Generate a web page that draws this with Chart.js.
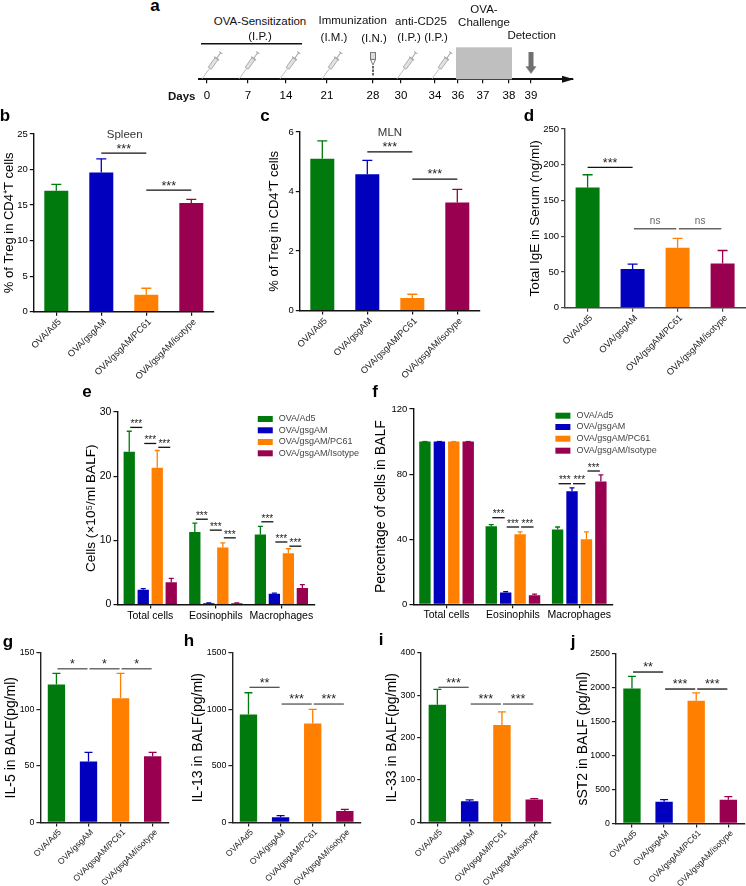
<!DOCTYPE html>
<html>
<head>
<meta charset="utf-8">
<title>Treg panels</title>
<script src="https://cdn.jsdelivr.net/npm/chart.js@4/dist/chart.umd.js"></script>
<style>
    html, body { margin: 0; padding: 0; background: #fff; }
    #page { position: relative; width: 746px; height: 886px; overflow: hidden; font-family: "Liberation Sans", Arial, sans-serif; }
    #page canvas { position: absolute; }
    .note { position: absolute; transform: translate(-50%, -50%); white-space: nowrap; color: #111; }
</style>
</head>
<body>
<div id="page"></div>
<script>
// categories
var groups = ["OVA/Ad5", "OVA/gsgAM", "OVA/gsgAM/PC61", "OVA/gsgAM/isotype"];
var legendNames = ["OVA/Ad5", "OVA/gsgAM", "OVA/gsgAM/PC61", "OVA/gsgAM/Isotype"];
var cellTypes = ["Total cells", "Eosinophils", "Macrophages"];
var colors = ["#007A0C", "#0000BE", "#FF8000", "#9A0050"];

// timeline (panel a), positions are along the drawn arrow
var days = ["0", "7", "14", "21", "28", "30", "34", "36", "37", "38", "39"];
var dayPositions = [8, 49, 87, 128, 174, 202, 236, 259, 284, 310, 332];
var syringePositions = [13, 50, 91, 133, 208, 243];
var nasalPositions = [174];
var detectionPositions = [332];
var challengeSpan = [257, 313];
var sensitizationSpan = [2, 103];

// b - spleen
var spleenMeans = [17, 19.6, 2.4, 15.3];
var spleenTops = [17.9, 21.5, 3.3, 15.8];
var spleenTicks = [0, 5, 10, 15, 20, 25];
// c - MLN
var mlnMeans = [5.1, 4.58, 0.42, 3.63];
var mlnTops = [5.7, 5.05, 0.55, 4.07];
var mlnTicks = [0, 2, 4, 6];
// d - serum IgE
var igeMeans = [168, 54, 84, 62];
var igeTops = [186, 61, 97, 80];
var igeTicks = [0, 50, 100, 150, 200, 250];
// e - BALF cell counts, one row per group
var countMeans = [[23.8, 11.3, 10.9], [2.3, 0.2, 1.7], [21.3, 8.9, 8.0], [3.5, 0.2, 2.6]];
var countTops = [[27, 12.7, 12.2], [2.5, 0.25, 1.8], [24, 9.6, 8.7], [4.1, 0.25, 3.1]];
var countTicks = [0, 10, 20, 30];
// f - BALF cell percentages
var percentMeans = [[100, 48, 46], [100, 7.3, 69.5], [100, 43, 40], [100, 5.5, 75.5]];
var percentTops = [[100, 49, 47.5], [100, 7.8, 71.5], [100, 44.5, 44.5], [100, 6.3, 79.5]];
var percentTicks = [0, 40, 80, 120];
// g - IL-5
var il5Means = [122, 54, 110, 58.5];
var il5Tops = [132, 62, 132, 62];
var il5Ticks = [0, 50, 100, 150];
// h - IL-13
var il13Means = [955, 45, 875, 100];
var il13Tops = [1148, 60, 1000, 115];
var il13Ticks = [0, 500, 1000, 1500];
// i - IL-33
var il33Means = [278, 50, 230, 54];
var il33Tops = [314, 53, 261, 56];
var il33Ticks = [0, 100, 200, 300, 400];
// j - sST2
var sst2Means = [1990, 320, 1810, 350];
var sst2Tops = [2170, 350, 1925, 395];
var sst2Ticks = [0, 500, 1000, 1500, 2000, 2500];

// significance bars: from bar, to bar, value height, label
var spleenSig = [[1, 2, 22.3, "***"], [2, 3, 17.1, "***"]];
var mlnSig = [[1, 2, 5.33, "***"], [2, 3, 4.42, "***"]];
var igeSig = [[0, 1, 196.4, "***"], [1, 2, 110.5, "ns"], [2, 3, 110.5, "ns"]];
var countSig = [[0, 1, 27.6, "***"], [1, 2, 25.1, "***"], [2, 3, 24.5, "***"],
    [4, 5, 13.3, "***"], [5, 6, 11.6, "***"], [6, 7, 10.4, "***"],
    [8, 9, 12.9, "***"], [9, 10, 9.75, "***"], [10, 11, 9.1, "***"]];
var percentSig = [[4, 5, 53.2, "***"], [5, 6, 47.5, "***"], [6, 7, 47.5, "***"],
    [8, 9, 74.1, "***"], [9, 10, 74.1, "***"], [10, 11, 81.9, "***"]];
var il5Sig = [[0, 1, 136, "*"], [1, 2, 136, "*"], [2, 3, 136, "*"]];
var il13Sig = [[0, 1, 1196, "**"], [1, 2, 1048, "***"], [2, 3, 1048, "***"]];
var il33Sig = [[0, 1, 319, "***"], [1, 2, 279.5, "***"], [2, 3, 279.5, "***"]];
var sst2Sig = [[0, 1, 2234, "**"], [1, 2, 1983, "***"], [2, 3, 1983, "***"]];

var fontName = '"Liberation Sans", Arial, sans-serif';
var page = document.getElementById("page");
Chart.defaults.font.family = fontName;
Chart.defaults.color = "#111";
Chart.defaults.animation = false;

function addCanvas(x, y, w, h) {
    var c = document.createElement("canvas");
    c.width = w;
    c.height = h;
    c.style.left = x + "px";
    c.style.top = y + "px";
    page.appendChild(c);
    return c;
}

function addNote(text, x, y, size, weight, color) {
    var d = document.createElement("div");
    d.className = "note";
    d.textContent = text;
    d.style.left = x + "px";
    d.style.top = y + "px";
    d.style.fontSize = size + "px";
    if (weight) d.style.fontWeight = weight;
    if (color) d.style.color = color;
    page.appendChild(d);
}

// error bars + significance bars + optional legend, all through the chart's scales
function marksPlugin(p) {
    function barX(chart, slot) {
        var n = chart.data.datasets.length;
        if (n == 1) return chart.getDatasetMeta(0).data[slot].x;
        return chart.getDatasetMeta(slot % n).data[Math.floor(slot / n)].x;
    }
    return {
        id: "marks",
        afterDatasetsDraw: function (chart) {
            var ctx = chart.ctx, y = chart.scales.y;
            ctx.save();
            chart.data.datasets.forEach(function (ds, d) {
                chart.getDatasetMeta(d).data.forEach(function (bar, i) {
                    var top = y.getPixelForValue(ds.errorTops[i]);
                    ctx.strokeStyle = Array.isArray(ds.backgroundColor) ? ds.backgroundColor[i] : ds.backgroundColor;
                    ctx.lineWidth = 1.3;
                    ctx.beginPath();
                    ctx.moveTo(bar.x, bar.y);
                    ctx.lineTo(bar.x, top);
                    ctx.moveTo(bar.x - p.cap, top);
                    ctx.lineTo(bar.x + p.cap, top);
                    ctx.stroke();
                });
            });
            ctx.textAlign = "center";
            p.sig.forEach(function (s) {
                var ns = s[3] == "ns";
                var trim = ns ? 1.3 : p.inset;
                var x1 = barX(chart, s[0]) + trim, x2 = barX(chart, s[1]) - trim;
                var py = y.getPixelForValue(s[2]);
                ctx.strokeStyle = ns ? "#666" : p.sigColor;
                ctx.lineWidth = ns ? 1.6 : 1.3;
                ctx.beginPath();
                ctx.moveTo(x1, py);
                ctx.lineTo(x2, py);
                ctx.stroke();
                ctx.fillStyle = ns ? "#666" : "#222";
                ctx.font = (ns ? "10px " : p.sigFont + "px ") + fontName;
                ctx.textBaseline = "middle";
                ctx.fillText(s[3], (x1 + x2) / 2, py - (ns ? 7 : p.sigLift));
            });
            if (p.legend) {
                ctx.textAlign = "left";
                ctx.font = "9px " + fontName;
                chart.data.datasets.forEach(function (ds, d) {
                    var ly = p.legend.y[d] - p.y0;
                    ctx.fillStyle = ds.backgroundColor;
                    ctx.fillRect(p.legend.x - p.x0, ly - 3, 15, 6);
                    ctx.fillStyle = "#444";
                    ctx.fillText(ds.label, p.legend.x + 21 - p.x0, ly);
                });
            }
            ctx.restore();
        }
    };
}

function barPanel(p) {
    var titleOffset = (p.titleFont || 14) * 0.6;
    var flat = p.labels == cellTypes;
    p.x0 = p.titleX - titleOffset;
    p.y0 = p.top - 10;
    var x1 = Math.min(p.canvasRight || (p.right + 3), 746);
    var h = Math.min(p.bottom + (flat ? 26 : 74), 886) - p.y0;
    var canvas = addCanvas(p.x0, p.y0, Math.ceil(x1 - p.x0), Math.ceil(h));
    p.inset = p.inset || 0;
    p.sigColor = p.sigColor || "#111";
    p.sigFont = p.sigFont || 12.5;
    p.sigLift = p.sigLift || 4;
    new Chart(canvas, {
        type: "bar",
        data: { labels: p.labels, datasets: p.datasets },
        plugins: [marksPlugin(p)],
        options: {
            responsive: false,
            layout: { padding: { left: 0, top: p.top - p.y0, right: Math.ceil(x1 - p.x0) - (p.right - p.x0), bottom: 0 } },
            plugins: { legend: { display: false }, tooltip: { enabled: false } },
            datasets: { bar: { categoryPercentage: p.catPct, barPercentage: p.barPct } },
            scales: {
                x: {
                    grid: { offset: false, drawOnChartArea: false, tickLength: 4, color: p.axisColor, lineWidth: 1.2 },
                    border: { color: p.axisColor, width: 1.4 },
                    ticks: {
                        autoSkip: false,
                        padding: 1,
                        labelOffset: flat ? 0 : 3.5,
                        maxRotation: flat ? 0 : 45,
                        minRotation: flat ? 0 : 45,
                        font: { size: p.xFont },
                        color: flat ? "#000" : "#222"
                    },
                    afterFit: function (s) {
                        s.height = Math.ceil(h) - (p.bottom - p.y0);
                        s.paddingLeft = 0;
                        s.paddingRight = 0;
                    }
                },
                y: {
                    min: p.ticks[0],
                    max: p.ticks[p.ticks.length - 1],
                    afterBuildTicks: function (s) {
                        s.ticks = p.ticks.map(function (v) { return { value: v }; });
                    },
                    grid: { drawOnChartArea: false, tickLength: 4, color: p.axisColor, lineWidth: 1.2 },
                    border: { color: p.axisColor, width: 1.4 },
                    ticks: {
                        padding: 2,
                        font: { size: p.yFont },
                        color: "#000",
                        callback: function (v) { return String(v); }
                    },
                    title: { display: true, text: p.title, padding: 0, color: "#000", font: { size: p.titleFont || 14, lineHeight: 1.2 } },
                    afterFit: function (s) {
                        s.width = p.left - p.x0;
                        s.paddingTop = 0;
                        s.paddingBottom = 0;
                    }
                }
            }
        }
    });
}

function singleSeries(means, tops) {
    return [{ data: means, errorTops: tops, backgroundColor: colors }];
}

function groupedSeries(means, tops) {
    return legendNames.map(function (name, i) {
        return { label: name, data: means[i], errorTops: tops[i], backgroundColor: colors[i] };
    });
}

// small icons for the timeline, used as point styles
function iconCanvas(w, h, draw) {
    var c = document.createElement("canvas");
    c.width = w;
    c.height = h;
    draw(c.getContext("2d"));
    return c;
}

var syringeIcon = iconCanvas(24, 30, function (g) {
    g.translate(12, 15);
    g.rotate(-0.95);
    g.strokeStyle = "#bdbdbd";
    g.lineWidth = 0.9;
    g.beginPath();
    g.moveTo(-17, 0);
    g.lineTo(-3, 0);
    g.stroke();
    g.fillStyle = "#e2e2e2";
    g.strokeStyle = "#a8a8a8";
    g.fillRect(-4, -1.8, 12, 3.6);
    g.strokeRect(-4, -1.8, 12, 3.6);
    g.strokeStyle = "#a0a0a0";
    g.lineWidth = 1;
    g.beginPath();
    g.moveTo(8, 0);
    g.lineTo(15, 0);
    g.moveTo(15, -2);
    g.lineTo(15, 2);
    g.moveTo(8, -3);
    g.lineTo(8, 3);
    g.stroke();
});

var nasalIcon = iconCanvas(10, 26, function (g) {
    g.fillStyle = "#ddd";
    g.strokeStyle = "#777";
    g.lineWidth = 1;
    g.fillRect(2.5, 0.5, 5, 7);
    g.strokeRect(2.5, 0.5, 5, 7);
    g.beginPath();
    g.moveTo(2.5, 7.5);
    g.lineTo(5, 13);
    g.lineTo(7.5, 7.5);
    g.stroke();
    g.fillStyle = "#666";
    g.fillRect(4, 14, 2, 2.5);
    g.fillRect(4, 17.5, 2, 2.5);
    g.fillRect(4, 21, 2, 2.5);
});

var arrowIcon = iconCanvas(12, 22, function (g) {
    g.fillStyle = "#707070";
    g.fillRect(3.5, 0, 5, 15);
    g.beginPath();
    g.moveTo(0.5, 14);
    g.lineTo(11.5, 14);
    g.lineTo(6, 21.5);
    g.closePath();
    g.fill();
});

function xyAt(positions, level) {
    return positions.map(function (v) { return { x: v, y: level }; });
}

var timelinePlugin = {
    id: "timeline",
    beforeDatasetsDraw: function (chart) {
        var ctx = chart.ctx, x = chart.scales.x, y = chart.scales.y;
        ctx.save();
        ctx.fillStyle = "#bfbfbf";
        ctx.fillRect(x.getPixelForValue(challengeSpan[0]), y.getPixelForValue(1),
            x.getPixelForValue(challengeSpan[1]) - x.getPixelForValue(challengeSpan[0]), y.getPixelForValue(0) - y.getPixelForValue(1));
        ctx.strokeStyle = "#111";
        ctx.lineWidth = 1.6;
        ctx.beginPath();
        ctx.moveTo(x.getPixelForValue(sensitizationSpan[0]), y.getPixelForValue(1.11));
        ctx.lineTo(x.getPixelForValue(sensitizationSpan[1]), y.getPixelForValue(1.11));
        ctx.stroke();
        ctx.restore();
    },
    afterDraw: function (chart) {
        var ctx = chart.ctx, a = chart.chartArea;
        ctx.save();
        ctx.fillStyle = "#111";
        ctx.beginPath();
        ctx.moveTo(a.right + 1, a.bottom);
        ctx.lineTo(a.right - 11, a.bottom - 3.5);
        ctx.lineTo(a.right - 11, a.bottom + 3.5);
        ctx.closePath();
        ctx.fill();
        ctx.restore();
    }
};

var timelineCanvas = addCanvas(150, 30, 440, 76);
new Chart(timelineCanvas, {
    type: "scatter",
    data: {
        datasets: [
            { data: xyAt(syringePositions, 0.45), pointStyle: syringeIcon, clip: false },
            { data: xyAt(nasalPositions, 0.45), pointStyle: nasalIcon, clip: false },
            { data: xyAt(detectionPositions, 0.5), pointStyle: arrowIcon, clip: false }
        ]
    },
    plugins: [timelinePlugin],
    options: {
        responsive: false,
        layout: { padding: { left: 49, top: 17.3, right: 17, bottom: 0 } },
        plugins: { legend: { display: false }, tooltip: { enabled: false } },
        scales: {
            x: {
                type: "linear",
                min: 0,
                max: 374,
                afterBuildTicks: function (s) {
                    s.ticks = dayPositions.map(function (v) { return { value: v }; });
                },
                grid: { drawOnChartArea: false, tickLength: 4, color: "#111", lineWidth: 1.2 },
                border: { color: "#111", width: 2 },
                ticks: {
                    autoSkip: false,
                    maxRotation: 0,
                    padding: 6,
                    font: { size: 11.5 },
                    color: "#000",
                    callback: function (v, i) { return days[i]; }
                },
                afterFit: function (s) {
                    s.height = 76 - 49.3;
                    s.paddingLeft = 0;
                    s.paddingRight = 0;
                }
            },
            y: { display: false, min: 0, max: 1 }
        }
    }
});

barPanel({ labels: groups, datasets: singleSeries(spleenMeans, spleenTops), ticks: spleenTicks, sig: spleenSig,
    title: "% of Treg in CD4\u207AT cells", titleX: 10, titleFont: 13, left: 34, right: 214, top: 134, bottom: 311.7,
    catPct: 1, barPct: 0.533, cap: 5, xFont: 9.2, yFont: 9.5, axisColor: "#111" });
barPanel({ labels: groups, datasets: singleSeries(mlnMeans, mlnTops), ticks: mlnTicks, sig: mlnSig,
    title: "% of Treg in CD4\u207AT cells", titleX: 275, titleFont: 13, left: 300, right: 480, top: 131.7, bottom: 310.3,
    catPct: 1, barPct: 0.533, cap: 5, xFont: 9.2, yFont: 9.5, axisColor: "#111" });
barPanel({ labels: groups, datasets: singleSeries(igeMeans, igeTops), ticks: igeTicks, sig: igeSig,
    title: "Total IgE in Serum (ng/ml)", titleX: 535, titleFont: 13.5, left: 565, right: 745, top: 129, bottom: 307.7,
    catPct: 1, barPct: 0.533, cap: 5, xFont: 9.2, yFont: 9.5, axisColor: "#444" });
barPanel({ labels: cellTypes, datasets: groupedSeries(countMeans, countTops), ticks: countTicks, sig: countSig,
    title: "Cells (\u00D710\u2075/ml BALF)", titleX: 90.7, titleFont: 13.6, left: 117, right: 313.7, top: 411.7, bottom: 604.3,
    catPct: 0.854, barPct: 0.807, cap: 2.5, xFont: 10.5, yFont: 10.5, axisColor: "#111", inset: 1, sigFont: 10, sigLift: 3,
    legend: { x: 257.3, y: [418.7, 430, 441.7, 453] }, canvasRight: 362 });
barPanel({ labels: cellTypes, datasets: groupedSeries(percentMeans, percentTops), ticks: percentTicks, sig: percentSig,
    title: "Percentage of cells in BALF", titleX: 381, left: 413, right: 612, top: 409, bottom: 604.3,
    catPct: 0.87, barPct: 0.79, cap: 2.5, xFont: 10.5, yFont: 9.5, axisColor: "#111", inset: 1, sigFont: 10, sigLift: 3,
    legend: { x: 555, y: [415.7, 427, 438.7, 450.7] }, canvasRight: 662 });
barPanel({ labels: groups, datasets: singleSeries(il5Means, il5Tops), ticks: il5Ticks, sig: il5Sig,
    title: "IL-5 in BALF(pg/ml)", titleX: 11, left: 40, right: 168.3, top: 653.3, bottom: 822.7,
    catPct: 1, barPct: 0.54, cap: 4, xFont: 8.5, yFont: 8.8, axisColor: "#222", inset: 1, sigColor: "#555" });
barPanel({ labels: groups, datasets: singleSeries(il13Means, il13Tops), ticks: il13Ticks, sig: il13Sig,
    title: "IL-13 in BALF(pg/ml)", titleX: 198, left: 232, right: 360.5, top: 653.3, bottom: 822.7,
    catPct: 1, barPct: 0.54, cap: 4, xFont: 8.5, yFont: 8.8, axisColor: "#222", inset: 1, sigColor: "#555" });
barPanel({ labels: groups, datasets: singleSeries(il33Means, il33Tops), ticks: il33Ticks, sig: il33Sig,
    title: "IL-33 in BALF(pg/ml)", titleX: 392.7, left: 421.5, right: 550.7, top: 653.3, bottom: 822.7,
    catPct: 1, barPct: 0.54, cap: 4, xFont: 8.5, yFont: 8.8, axisColor: "#222", inset: 1, sigColor: "#555" });
barPanel({ labels: groups, datasets: singleSeries(sst2Means, sst2Tops), ticks: sst2Ticks, sig: sst2Sig,
    title: "sST2 in BALF (pg/ml)", titleX: 583, left: 615.5, right: 744, top: 654.3, bottom: 823.7,
    catPct: 1, barPct: 0.54, cap: 4, xFont: 8.5, yFont: 8.8, axisColor: "#222", inset: 1 });

// panel letters
addNote("a", 155, 6, 17, "bold", "#000");
addNote("b", 5, 116, 17, "bold", "#000");
addNote("c", 265, 116, 17, "bold", "#000");
addNote("d", 529, 116, 17, "bold", "#000");
addNote("e", 87, 392, 17, "bold", "#000");
addNote("f", 375, 392, 17, "bold", "#000");
addNote("g", 8, 642, 17, "bold", "#000");
addNote("h", 189, 641, 17, "bold", "#000");
addNote("i", 381, 640, 17, "bold", "#000");
addNote("j", 573, 642, 17, "bold", "#000");

// panel titles
addNote("Spleen", 124.7, 134, 11.5, "", "#333");
addNote("MLN", 390, 132, 11.5, "", "#333");

// timeline captions
addNote("OVA-Sensitization", 260, 21, 11.5);
addNote("(I.P.)", 260, 36, 11.5);
addNote("Immunization", 352.7, 20, 11.5);
addNote("(I.M.)", 334, 37, 11.5);
addNote("(I.N.)", 374, 38, 11.5);
addNote("anti-CD25", 421, 21, 11.5);
addNote("(I.P.)", 409, 37, 11.5);
addNote("(I.P.)", 436, 37, 11.5);
addNote("OVA-", 484, 9, 11.5);
addNote("Challenge", 484, 22, 11.5);
addNote("Detection", 531.7, 35, 11.5);
addNote("Days", 181.7, 96, 11.5, "bold");
</script>
</body>
</html>
